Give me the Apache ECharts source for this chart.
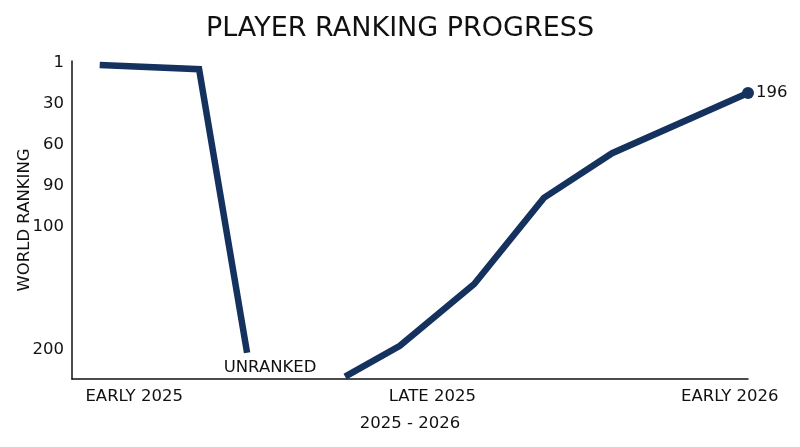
<!DOCTYPE html>
<html>
<head>
<meta charset="utf-8">
<script src="https://cdn.jsdelivr.net/npm/echarts@6/dist/echarts.min.js"></script>
<style>
  html, body { margin: 0; padding: 0; background: #fff; }
  #chart { width: 800px; height: 447px; }
</style>
</head>
<body>
<div id="chart"></div>
<script>
// x is position along the 2025 - 2026 timeline (0 = start, 100 = latest)
// y is the rank level on the stretched axis (0 = rank 1, 7 = rank 200, below = unranked)
const firstRunX = [4.1, 18.8, 25.9]
const firstRunY = [0.05, 0.15, 7.07]
const secondRunX = [40.4, 48.5, 59.5, 69.8, 79.9, 100]
const secondRunY = [7.65, 6.9, 5.39, 3.29, 2.2, 0.73]

const yTickLevels = [0, 1, 2, 3, 4, 7]
const yTickLabels = ['1', '30', '60', '90', '100', '200']
const xTickPos = [9.2, 53.3, 97.3]
const xTickLabels = ['EARLY 2025', 'LATE 2025', 'EARLY 2026']

const endLabel = '196'
const unrankedPos = [29.3, 7.44]

const navy = '#15325f'
const font = 'DejaVu Sans'
const labelSize = 16.5

const lineData = []
firstRunX.forEach((x, i) => lineData.push([x, firstRunY[i]]))
lineData.push('-')
secondRunX.forEach((x, i) => lineData.push([x, secondRunY[i]]))
const lastPoint = lineData[lineData.length - 1]

const myChart = echarts.init(document.getElementById('chart'))
myChart.setOption({
  animation: false,
  textStyle: { fontFamily: font, color: '#111' },
  title: {
    text: 'PLAYER RANKING PROGRESS',
    left: 'center',
    top: 10,
    textStyle: { fontFamily: font, fontSize: 27, fontWeight: 'normal', color: '#111' }
  },
  grid: { left: 72, right: 52, top: 61, bottom: 68, outerBoundsMode: 'none' },
  xAxis: {
    type: 'value',
    position: 'bottom',
    min: 0,
    max: 100,
    name: '2025 - 2026',
    nameLocation: 'middle',
    nameGap: 36,
    nameMoveOverlap: false,
    nameTextStyle: { fontFamily: font, fontSize: labelSize, color: '#111' },
    splitLine: { show: false },
    axisTick: { show: false },
    axisLine: { onZero: false, lineStyle: { color: '#111', width: 1.5 } },
    axisLabel: {
      customValues: xTickPos,
      margin: 9,
      fontFamily: font,
      fontSize: labelSize,
      color: '#111',
      formatter: (v) => {
        const i = xTickPos.indexOf(v)
        return i >= 0 ? xTickLabels[i] : ''
      }
    }
  },
  yAxis: {
    type: 'value',
    inverse: true,
    min: -0.05,
    max: 7.71,
    name: 'WORLD RANKING',
    nameLocation: 'middle',
    nameGap: 39,
    nameMoveOverlap: false,
    nameTextStyle: { fontFamily: font, fontSize: labelSize, color: '#111' },
    splitLine: { show: false },
    axisTick: { show: false },
    axisLine: { show: true, onZero: false, lineStyle: { color: '#111', width: 1.5 } },
    axisLabel: {
      customValues: yTickLevels,
      margin: 8,
      fontFamily: font,
      fontSize: labelSize,
      color: '#111',
      formatter: (v) => {
        const i = yTickLevels.indexOf(v)
        return i >= 0 ? yTickLabels[i] : ''
      }
    }
  },
  series: [
    {
      type: 'line',
      data: lineData,
      showSymbol: false,
      symbol: 'none',
      connectNulls: false,
      lineStyle: { color: navy, width: 6.5, cap: 'butt', join: 'miter' }
    },
    {
      type: 'scatter',
      data: [lastPoint],
      symbol: 'circle',
      symbolSize: 12,
      itemStyle: { color: navy, opacity: 1 },
      label: {
        show: true,
        position: 'right',
        distance: 2,
        formatter: endLabel,
        fontFamily: font,
        fontSize: labelSize,
        color: '#111'
      }
    },
    {
      type: 'scatter',
      data: [unrankedPos],
      symbolSize: 0,
      itemStyle: { opacity: 1 },
      label: {
        show: true,
        position: 'inside',
        formatter: 'UNRANKED',
        fontFamily: font,
        fontSize: labelSize,
        color: '#111'
      }
    }
  ]
})
window.addEventListener('resize', () => {
  myChart.resize()
})
</script>
</body>
</html>
